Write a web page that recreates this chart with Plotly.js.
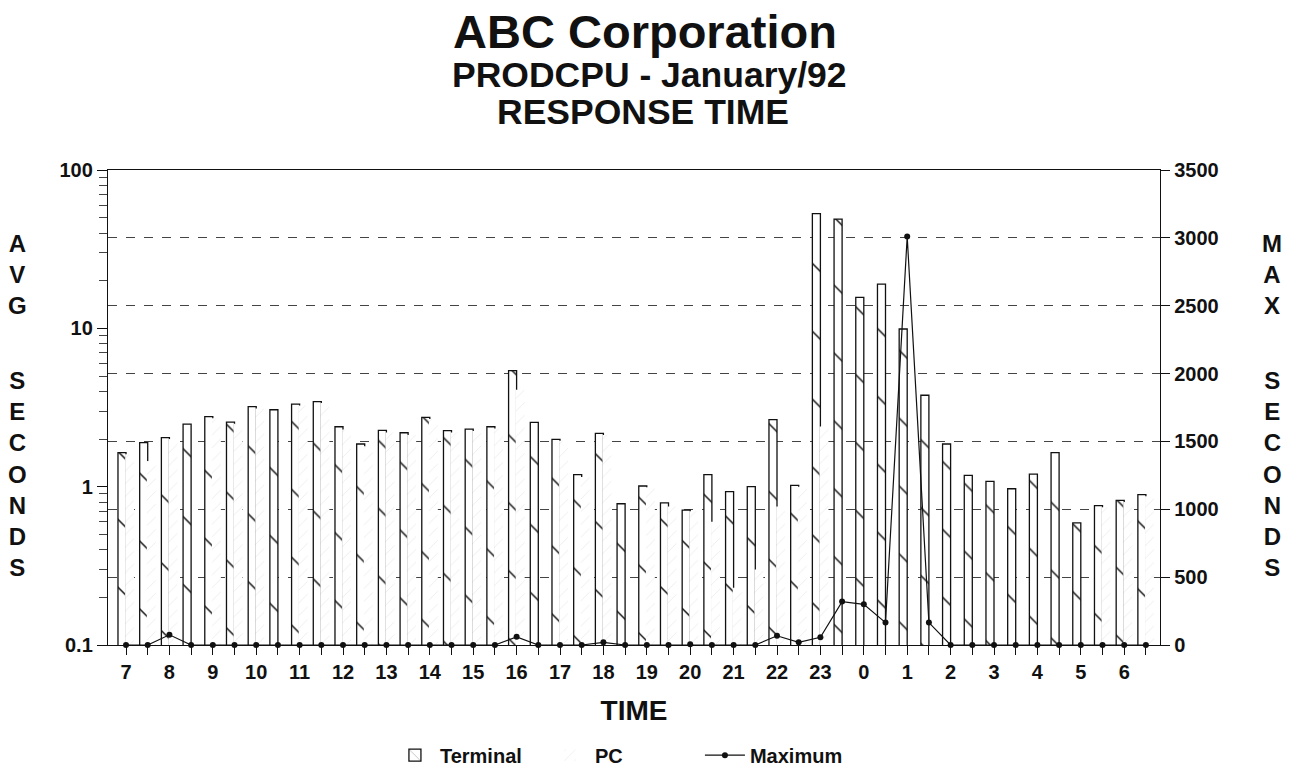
<!DOCTYPE html>
<html>
<head>
<meta charset="utf-8">
<script src="https://cdn.plot.ly/plotly-3.0.1.min.js"></script>
<style>html,body{margin:0;padding:0;background:#fff;}</style>
</head>
<body>
<div id="chart" style="width:1296px;height:768px;"></div>
<script>
// Half-hour time slots from 7:00 to 6:30
const slots = ["7:00","7:30","8:00","8:30","9:00","9:30","10:00","10:30","11:00","11:30",
  "12:00","12:30","13:00","13:30","14:00","14:30","15:00","15:30","16:00","16:30",
  "17:00","17:30","18:00","18:30","19:00","19:30","20:00","20:30","21:00","21:30",
  "22:00","22:30","23:00","23:30","0:00","0:30","1:00","1:30","2:00","2:30",
  "3:00","3:30","4:00","4:30","5:00","5:30","6:00","6:30"];
const slotTickText = ["7","","8","","9","","10","","11","","12","","13","","14","","15","","16","",
  "17","","18","","19","","20","","21","","22","","23","","0","","1","","2","",
  "3","","4","","5","","6",""];

// Average response time (seconds), log scale
const terminal = [1.64,1.90,2.04,2.48,2.77,2.56,3.20,3.06,3.32,3.44,
  2.39,1.86,2.27,2.19,2.74,2.26,2.31,2.39,5.41,2.55,
  1.99,1.19,2.17,0.78,1.01,0.79,0.71,1.19,0.93,1.00,
  2.65,1.02,53,49,15.7,19.0,9.9,3.78,1.86,1.18,
  1.08,0.97,1.20,1.64,0.59,0.76,0.82,0.89];
const pc = [1.60,1.45,2.00,null,2.70,2.50,3.12,null,3.25,3.38,
  2.30,1.80,2.20,2.12,2.68,2.20,2.25,2.33,4.10,null,
  1.95,1.15,2.12,null,0.99,0.75,0.70,0.60,0.23,0.30,
  0.75,1.00,2.40,null,null,null,null,null,null,null,
  null,null,null,null,null,0.74,0.80,0.87];
// Maximum response time (seconds), right axis
const maximum = [0,0,75,0,0,0,0,0,0,0,
  0,0,0,0,0,0,0,0,60,0,
  0,0,20,0,0,0,5,0,0,0,
  68,20,57,320,300,165,3010,165,0,0,
  0,0,0,0,0,0,0,0];

const minorVals = [];
for (let e = -1; e < 2; e++) for (let d = 2; d <= 9; d++) minorVals.push(d * Math.pow(10, e));

const FONT = "Liberation Sans, Arial, Helvetica, sans-serif";
const INK = "#111";

const traces = [
  {
    type: "bar", name: "Terminal", x: slots, y: terminal,
    offset: -0.37, width: 0.37,
    marker: {
      color: "white",
      line: {color: INK, width: 1.3},
      pattern: {shape: "\\", fgcolor: INK, bgcolor: "white", size: 48, solidity: 0.03}
    },
    hoverinfo: "x+y"
  },
  {
    type: "bar", name: "PC", x: slots, y: pc,
    offset: -0.04, width: 0.41,
    marker: {
      color: "white",
      line: {color: "white", width: 0},
      pattern: {shape: "/", fgcolor: "#ececec", bgcolor: "white", size: 9, solidity: 0.1}
    },
    hoverinfo: "x+y"
  },
  {
    type: "scatter", mode: "lines+markers", name: "Maximum", x: slots, y: maximum,
    yaxis: "y2",
    line: {color: INK, width: 1.2},
    marker: {color: INK, size: 6},
    cliponaxis: false
  }
];

const layout = {
  width: 1296, height: 768,
  paper_bgcolor: "white", plot_bgcolor: "white",
  margin: {l: 108, r: 136, t: 170, b: 123, autoexpand: false},
  barmode: "overlay",
  font: {family: FONT, color: INK, size: 20, weight: "bold"},
  title: {
    text: "ABC Corporation",
    font: {family: FONT, size: 47, weight: "bold", color: INK},
    xref: "container", x: 0.4977, xanchor: "center",
    yref: "container", y: 1 - 32 / 768, yanchor: "middle"
  },
  xaxis: {
    type: "category", automargin: false,
    range: [-0.83, 47.65],
    tickmode: "array", tickvals: slots, ticktext: slotTickText,
    ticks: "outside", ticklen: 9, tickwidth: 1, tickcolor: INK,
    showline: true, linecolor: INK, linewidth: 1.2, mirror: true,
    showgrid: false, zeroline: false,
    tickfont: {family: FONT, size: 20, weight: "bold", color: INK},
    title: {text: "TIME", font: {family: FONT, size: 28, weight: "bold", color: INK}, standoff: 18}
  },
  yaxis: {
    type: "log", range: [-1, 2], automargin: false,
    tickmode: "array", tickvals: [0.1, 1, 10, 100], ticktext: ["0.1", "1", "10", "100"],
    ticks: "outside", ticklen: 10, tickcolor: INK,
    minor: {tickmode: "array", tickvals: minorVals, ticks: "outside", ticklen: 8, tickcolor: "#444", showgrid: false},
    showline: true, linecolor: INK, linewidth: 1.2,
    showgrid: false, zeroline: false,
    tickfont: {family: FONT, size: 20, weight: "bold", color: INK}
  },
  yaxis2: {
    overlaying: "y", side: "right", automargin: false,
    range: [0, 3500], tickmode: "linear", tick0: 0, dtick: 500,
    ticks: "outside", ticklen: 9, tickcolor: INK,
    showline: true, linecolor: INK, linewidth: 1.2,
    showgrid: true, griddash: "dash", gridcolor: "#444", gridwidth: 1,
    zeroline: false,
    tickfont: {family: FONT, size: 20, weight: "bold", color: INK}
  },
  showlegend: true,
  legend: {
    orientation: "h", x: 0.268, xanchor: "left", y: -0.232, yanchor: "middle",
    font: {family: FONT, size: 20, weight: "bold", color: INK},
    itemwidth: 40, traceorder: "normal", entrywidth: 100
  },
  annotations: [
    {text: "PRODCPU - January/92", xref: "paper", yref: "paper", x: 0.515, y: 1.201,
     xanchor: "center", yanchor: "middle", showarrow: false,
     font: {family: FONT, size: 35.5, weight: "bold", color: INK}},
    {text: "RESPONSE TIME", xref: "paper", yref: "paper", x: 0.509, y: 1.122,
     xanchor: "center", yanchor: "middle", showarrow: false,
     font: {family: FONT, size: 35.5, weight: "bold", color: INK}},
    {text: "A<br>V<br>G", xref: "paper", yref: "paper", x: -0.0856, y: 0.779,
     xanchor: "center", yanchor: "middle", showarrow: false,
     font: {family: FONT, size: 24, weight: "bold", color: INK}},
    {text: "S<br>E<br>C<br>O<br>N<br>D<br>S", xref: "paper", yref: "paper", x: -0.0856, y: 0.36,
     xanchor: "center", yanchor: "middle", showarrow: false,
     font: {family: FONT, size: 24, weight: "bold", color: INK}},
    {text: "M<br>A<br>X", xref: "paper", yref: "paper", x: 1.1065, y: 0.779,
     xanchor: "center", yanchor: "middle", showarrow: false,
     font: {family: FONT, size: 24, weight: "bold", color: INK}},
    {text: "S<br>E<br>C<br>O<br>N<br>D<br>S", xref: "paper", yref: "paper", x: 1.1065, y: 0.36,
     xanchor: "center", yanchor: "middle", showarrow: false,
     font: {family: FONT, size: 24, weight: "bold", color: INK}}
  ]
};

Plotly.newPlot("chart", traces, layout, {displayModeBar: false, staticPlot: true});
</script>
</body>
</html>
